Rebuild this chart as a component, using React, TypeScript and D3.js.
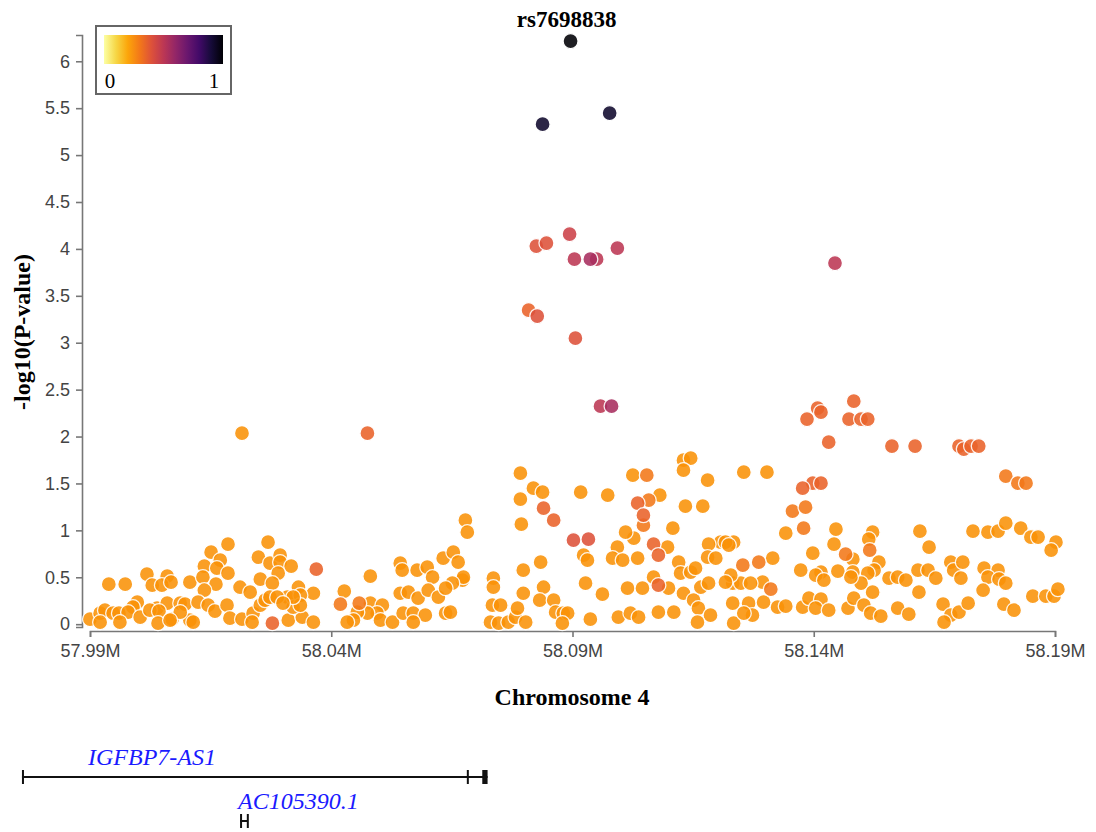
import React, { useEffect, useRef } from 'react';
import * as d3 from 'd3';

// axis ticks
const xTicks = [57.99, 58.04, 58.09, 58.14, 58.19];
const yTicks = [0, 0.5, 1, 1.5, 2, 2.5, 3, 3.5, 4, 4.5, 5, 5.5, 6];
const leadSnp = 'rs7698838';
const chromLabel = 'Chromosome 4';

// SNPs grouped by LD (r2) with the lead SNP: [position (Mb), -log10(P)]
const ld100 = [[58.0896, 6.215]];
const ld92 = [[58.0838, 5.33], [58.0977, 5.448]];
const ld55 = [[58.0937, 3.891], [58.0981, 2.324]];
const ld50 = [[58.0904, 3.891], [58.095, 3.891], [58.0993, 4.009], [58.1444, 3.849], [58.0958, 2.324]];
const ld45 = [[58.0894, 4.158]];
const ld40 = [[58.0825, 4.03], [58.0846, 4.062], [58.0827, 3.284], [58.0906, 3.049], [58.0902, 0.896], [58.0933, 0.906]];
const ld35 = [
  [58.0809, 3.348], [58.0475, 2.036], [58.1483, 2.377], [58.1408, 2.303], [58.1415, 2.26], [58.1386, 2.186],
  [58.1473, 2.186], [58.1498, 2.186], [58.1512, 2.186], [58.1431, 1.94], [58.1562, 1.898], [58.161, 1.898],
  [58.1701, 1.898], [58.1711, 1.866], [58.1726, 1.898], [58.1742, 1.898], [58.1398, 1.503], [58.1415, 1.503],
  [58.1377, 1.45], [58.084, 1.237], [58.0861, 1.109], [58.1035, 1.29], [58.1047, 1.162], [58.1068, 0.853],
  [58.1078, 0.736], [58.1078, 0.416], [58.0369, 0.586], [58.0278, 0.011],
];
const ld30 = [
  [58.1356, 1.205], [58.1383, 1.247], [58.1379, 1.023], [58.1516, 0.789], [58.1286, 0.661], [58.1253, 0.629],
  [58.1466, 0.746], [58.1311, 0.373], [58.0419, 0.213], [58.0458, 0.224], [58.1054, 1.588], [58.1058, 1.322],
  [58.1047, 1.055], [58.1798, 1.578], [58.1823, 1.503], [58.184, 1.503],
];
const ld25 = [
  [58.0215, 2.036], [58.1255, 1.62], [58.1303, 1.62], [58.1342, 0.97], [58.1446, 1.013], [58.1442, 0.853],
  [58.1522, 0.981], [58.1514, 0.906], [58.162, 0.991], [58.1639, 0.821], [58.173, 0.991], [58.1761, 0.981],
  [58.1782, 0.991], [58.1798, 1.077], [58.1829, 1.023], [58.185, 0.928], [58.1865, 0.928], [58.1902, 0.874],
  [58.1892, 0.789], [58.1207, 0.874], [58.1234, 0.874], [58.1315, 0.704], [58.1398, 0.757], [58.1481, 0.693],
  [58.1535, 0.661], [58.1525, 0.576], [58.1512, 0.544], [58.1373, 0.576], [58.1415, 0.554], [58.1404, 0.522],
  [58.145, 0.565], [58.1421, 0.469], [58.1481, 0.554], [58.1498, 0.437], [58.1477, 0.501], [58.1556, 0.49],
  [58.1574, 0.501], [58.1591, 0.469], [58.1616, 0.576], [58.1637, 0.576], [58.1653, 0.49], [58.1684, 0.661],
  [58.169, 0.576], [58.1709, 0.661], [58.1705, 0.49], [58.1753, 0.597], [58.1782, 0.576], [58.1761, 0.501],
  [58.1784, 0.48], [58.1798, 0.437], [58.1751, 0.362], [58.1618, 0.341], [58.1854, 0.299], [58.1881, 0.299],
  [58.1898, 0.299], [58.1906, 0.373], [58.1294, 0.448], [58.1232, 0.437], [58.1249, 0.437], [58.1269, 0.437],
  [58.1228, 0.522], [58.1217, 0.448], [58.1232, 0.224], [58.1265, 0.224], [58.1296, 0.235], [58.1325, 0.181],
  [58.1342, 0.192], [58.1377, 0.181], [58.139, 0.277], [58.1415, 0.267], [58.1404, 0.171], [58.1431, 0.149],
  [58.1471, 0.171], [58.1483, 0.277], [58.1504, 0.203], [58.1518, 0.117], [58.1539, 0.085], [58.1522, 0.341],
  [58.1574, 0.171], [58.1597, 0.107], [58.1668, 0.213], [58.1684, 0.096], [58.1701, 0.128], [58.172, 0.224],
  [58.167, 0.021], [58.1794, 0.213], [58.1815, 0.149], [58.1234, 0.011], [58.1273, 0.096], [58.1255, 0.117],
  [58.0186, 0.853], [58.0269, 0.874], [58.0151, 0.768], [58.017, 0.682], [58.0137, 0.618], [58.0163, 0.597],
  [58.0186, 0.544], [58.0249, 0.714], [58.0273, 0.65], [58.0294, 0.736], [58.0294, 0.661], [58.0317, 0.618],
  [58.029, 0.544], [58.0018, 0.533], [58.006, 0.512], [58.0029, 0.416], [58.0049, 0.416], [58.0068, 0.448],
  [58.0107, 0.448], [57.9939, 0.426], [57.9973, 0.426], [58.0134, 0.501], [58.0161, 0.426], [58.0137, 0.362],
  [58.0253, 0.48], [58.0278, 0.437], [58.0211, 0.394], [58.0232, 0.341], [58.0332, 0.394], [58.0363, 0.33],
  [58.0309, 0.288], [58.0336, 0.309], [57.9998, 0.235], [57.9989, 0.181], [58.0039, 0.171], [58.006, 0.224],
  [58.0087, 0.224], [58.0097, 0.213], [58.0124, 0.235], [58.0145, 0.203], [57.99, 0.053], [57.9921, 0.117],
  [57.9931, 0.149], [57.9948, 0.117], [57.996, 0.117], [57.9979, 0.128], [58.0004, 0.075], [58.0024, 0.149],
  [58.0043, 0.139], [58.007, 0.053], [58.0107, 0.043], [58.0087, 0.128], [57.9921, 0.021], [57.9962, 0.021],
  [58.0041, 0.011], [58.0066, 0.043], [58.0114, 0.021], [58.0159, 0.139], [58.0184, 0.203], [58.019, 0.064],
  [58.0215, 0.053], [58.0238, 0.117], [58.0236, 0.021], [58.0253, 0.203], [58.0263, 0.256], [58.0311, 0.043],
  [58.034, 0.075], [58.0363, 0.021], [58.0321, 0.181], [58.0336, 0.203], [58.0273, 0.288], [58.0288, 0.288],
  [58.0321, 0.288], [58.03, 0.224], [58.0427, 0.352], [58.0481, 0.512], [58.0481, 0.224], [58.0506, 0.203],
  [58.0495, 0.117], [58.0475, 0.117], [58.0454, 0.128], [58.0446, 0.043], [58.0433, 0.021], [58.0502, 0.043],
  [58.0527, 0.021], [58.0543, 0.65], [58.0547, 0.576], [58.0578, 0.576], [58.0599, 0.608], [58.061, 0.501],
  [58.0632, 0.704], [58.0653, 0.768], [58.0663, 0.661], [58.0672, 0.469], [58.0674, 0.501], [58.0651, 0.437],
  [58.0678, 1.109], [58.0682, 0.981], [58.0543, 0.33], [58.056, 0.341], [58.058, 0.277], [58.0601, 0.362],
  [58.0622, 0.288], [58.0637, 0.384], [58.0549, 0.117], [58.057, 0.117], [58.0595, 0.096], [58.057, 0.021],
  [58.0637, 0.117], [58.0647, 0.128], [58.0736, 0.49], [58.0736, 0.394], [58.0734, 0.203], [58.0751, 0.203],
  [58.073, 0.021], [58.0747, 0.011], [58.0767, 0.021], [58.0782, 0.075], [58.0803, 0.021], [58.0786, 0.171],
  [58.0798, 0.33], [58.0792, 1.61], [58.0792, 1.333], [58.0794, 1.066], [58.0819, 1.45], [58.0838, 1.407],
  [58.0798, 0.576], [58.0834, 0.661], [58.084, 0.394], [58.0832, 0.256], [58.0861, 0.256], [58.0865, 0.128],
  [58.0881, 0.117], [58.089, 0.117], [58.0879, 0.011], [58.0917, 1.407], [58.0973, 1.375], [58.0923, 0.736],
  [58.0931, 0.682], [58.0927, 0.437], [58.0962, 0.32], [58.0937, 0.053], [58.1025, 1.588], [58.1081, 1.375],
  [58.1027, 0.917], [58.1108, 1.023], [58.1097, 0.821], [58.0993, 0.821], [58.0983, 0.704], [58.1004, 0.682],
  [58.1035, 0.704], [58.1014, 0.384], [58.1045, 0.384], [58.1068, 0.501], [58.1099, 0.384], [58.112, 0.661],
  [58.1124, 0.544], [58.1145, 0.554], [58.0995, 0.075], [58.102, 0.117], [58.1037, 0.075], [58.1078, 0.128],
  [58.111, 0.128], [58.113, 0.33], [58.1151, 0.256], [58.113, 1.748], [58.1145, 1.77], [58.113, 1.642],
  [58.118, 1.535], [58.1134, 1.258], [58.117, 1.258], [58.1182, 0.853], [58.118, 0.714], [58.1197, 0.704],
  [58.1217, 0.874], [58.1224, 0.842], [58.1155, 0.597], [58.1166, 0.394], [58.1182, 0.437], [58.1161, 0.171],
  [58.1186, 0.096], [58.1159, 0.021], [58.101, 0.981],
];

const ldGroups: [number, number[][]][] = [
  [0.24, ld25], [0.3, ld30], [0.35, ld35], [0.4, ld40], [0.45, ld45],
  [0.5, ld50], [0.55, ld55], [0.92, ld92], [1, ld100],
];

// gene track
const geneNames = ['IGFBP7-AS1', 'AC105390.1'];
const geneStarts = [57.9759, 58.0211];
const geneEnds = [58.0724, 58.0226];
const geneExons = [
  [[57.9759, 57.976], [58.0681, 58.0683], [58.0713, 58.0724]],
  [[58.0211, 58.0212], [58.0225, 58.0226]],
];

const ldColor = (r2: number) => d3.interpolateInferno(1 - r2);
const serif = '"Liberation Serif", "Times New Roman", serif';

export default function App() {
  const width = 1096;
  const height = 832;

  const x = d3.scaleLinear().domain([57.99, 58.19]).range([90, 1055]);
  const y = d3.scaleLinear().domain([-0.03, 6.28]).range([627, 35]);

  const xAxisRef = useRef<SVGGElement>(null);
  const yAxisRef = useRef<SVGGElement>(null);

  useEffect(() => {
    const xa = d3.select(xAxisRef.current!);
    xa.call(
      d3.axisBottom(x).tickValues(xTicks)
        .tickFormat((d) => `${(+d).toFixed(2)}M`)
        .tickSize(6).tickPadding(7) as any
    );
    const ya = d3.select(yAxisRef.current!);
    ya.call(
      d3.axisLeft(y).tickValues(yTicks)
        .tickFormat((d) => String(d))
        .tickSize(6).tickPadding(6) as any
    );
    [xa, ya].forEach((g) => {
      g.selectAll('.domain').attr('stroke', '#777').attr('stroke-width', 1.6);
      g.selectAll('.tick line').attr('stroke', '#777').attr('stroke-width', 1.6);
      g.selectAll('.tick text')
        .attr('fill', '#444')
        .style('font-family', '"Liberation Sans", Arial, sans-serif')
        .style('font-size', '18px');
    });
  }, []);

  const gradStops = d3.range(0, 1.0001, 0.1);
  const lead = ld100[0];

  return (
    <div style={{ position: 'absolute', left: 0, top: 0 }}>
      <svg width={width} height={height} style={{ display: 'block', background: '#fff' }}>
        <defs>
          <linearGradient id="ldGrad" x1="0" x2="1" y1="0" y2="0">
            {gradStops.map((t) => (
              <stop key={t} offset={`${t * 100}%`} stopColor={ldColor(t)} />
            ))}
          </linearGradient>
        </defs>

        <g ref={xAxisRef} transform="translate(0,631)" />
        <g ref={yAxisRef} transform="translate(82,0)" />

        {/* points, low LD first */}
        <g>
          {ldGroups.map(([r2, pts]) =>
            pts.map((p, i) => (
              <circle
                key={`${r2}-${i}`}
                cx={x(p[0])}
                cy={y(p[1])}
                r={7.5}
                fill={ldColor(r2)}
                stroke="#fff"
                strokeWidth={1.3}
                opacity={0.88}
              />
            ))
          )}
        </g>

        <text
          x={x(lead[0]) - 4}
          y={y(lead[1]) - 14}
          textAnchor="middle"
          fontFamily={serif}
          fontWeight="bold"
          fontSize={23}
        >
          {leadSnp}
        </text>

        {/* legend */}
        <rect x={96} y={26} width={135} height={68} fill="#fff" stroke="#666" strokeWidth={2} />
        <rect x={104} y={35} width={119} height={29} fill="url(#ldGrad)" />
        <text x={110} y={88} textAnchor="middle" fontFamily={serif} fontSize={21}>0</text>
        <text x={214} y={88} textAnchor="middle" fontFamily={serif} fontSize={21}>1</text>

        {/* axis titles */}
        <text
          transform="translate(30,332) rotate(-90)"
          textAnchor="middle"
          fontFamily={serif}
          fontWeight="bold"
          fontSize={24}
        >
          -log10(P-value)
        </text>
        <text
          x={572}
          y={705}
          textAnchor="middle"
          fontFamily={serif}
          fontWeight="bold"
          fontSize={24}
        >
          {chromLabel}
        </text>

        {/* genes */}
        {geneNames.map((name, gi) => {
          const gy = 777 + gi * 44;
          return (
            <g key={name}>
              <line x1={x(geneStarts[gi])} x2={x(geneEnds[gi])} y1={gy} y2={gy} stroke="#111" strokeWidth={2} />
              {geneExons[gi].map((e, ei) => {
                const w = Math.max(2, x(e[1]) - x(e[0]));
                return <rect key={ei} x={x(e[0])} y={gy - 7} width={w} height={14} fill="#111" />;
              })}
              <text
                x={Math.max(x(geneStarts[gi]), x.range()[0]) - 2}
                y={gy - 12}
                fill="#1a1aff"
                fontStyle="italic"
                fontFamily={serif}
                fontSize={24}
              >
                {name}
              </text>
            </g>
          );
        })}
      </svg>
    </div>
  );
}
